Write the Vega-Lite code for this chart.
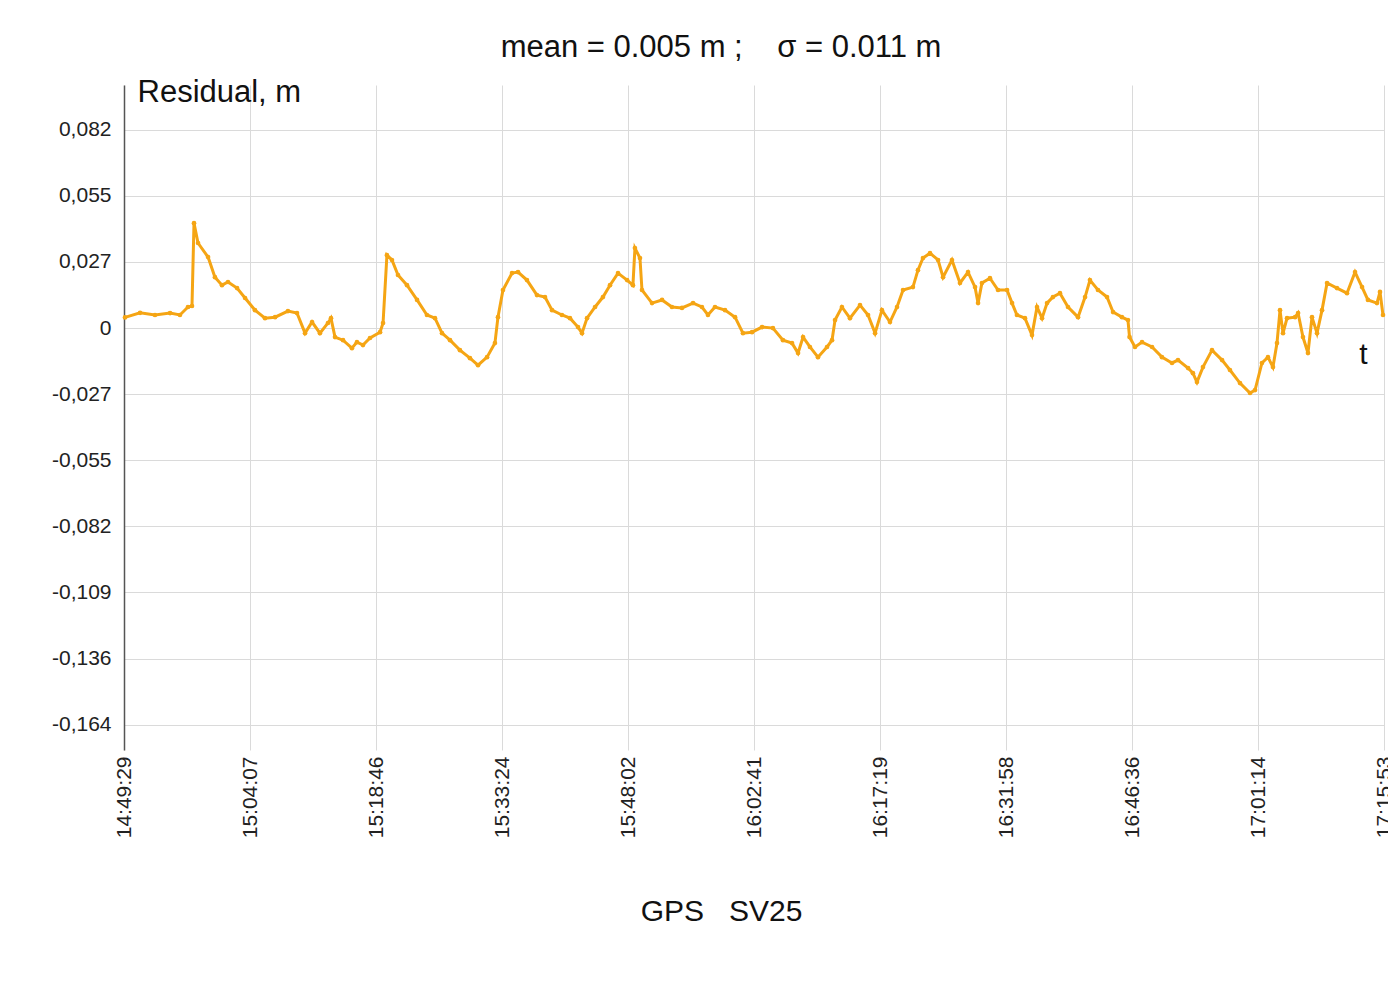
{
  "$schema": "https://vega.github.io/schema/vega-lite/v6.json",
  "width": 1260,
  "height": 665,
  "autosize": {"type": "none"},
  "padding": {"left": 124, "top": 85, "right": 4, "bottom": 247},
  "background": "white",
  "title": {
    "text": "mean = 0.005 m ;\u00a0\u00a0\u00a0\u00a0σ = 0.011 m",
    "font": "Liberation Sans",
    "fontSize": 31,
    "fontWeight": "normal",
    "color": "#111111",
    "anchor": "middle",
    "dx": -33,
    "offset": 12
  },
  "config": {
    "view": {"stroke": null},
    "axis": {"labelFont": "Liberation Sans", "titleFont": "Liberation Sans"}
  },
  "datasets": {
    "series": [
      {"t": 7, "residual": 0.0044}, {"t": 112, "residual": 0.0063}, {"t": 216, "residual": 0.0054},
      {"t": 321, "residual": 0.0062}, {"t": 390, "residual": 0.0054}, {"t": 446, "residual": 0.0087},
      {"t": 474, "residual": 0.0091}, {"t": 488, "residual": 0.0433}, {"t": 516, "residual": 0.0351},
      {"t": 586, "residual": 0.0293}, {"t": 634, "residual": 0.021}, {"t": 683, "residual": 0.0177},
      {"t": 725, "residual": 0.019}, {"t": 788, "residual": 0.0165}, {"t": 844, "residual": 0.0124},
      {"t": 913, "residual": 0.0074}, {"t": 983, "residual": 0.0041}, {"t": 1053, "residual": 0.0045},
      {"t": 1143, "residual": 0.007}, {"t": 1206, "residual": 0.0062}, {"t": 1262, "residual": -0.0021},
      {"t": 1311, "residual": 0.0025}, {"t": 1366, "residual": -0.0021}, {"t": 1422, "residual": 0.0021},
      {"t": 1443, "residual": 0.0041}, {"t": 1471, "residual": -0.0037}, {"t": 1527, "residual": -0.005},
      {"t": 1589, "residual": -0.0083}, {"t": 1624, "residual": -0.0058}, {"t": 1666, "residual": -0.007},
      {"t": 1715, "residual": -0.0041}, {"t": 1785, "residual": -0.0017}, {"t": 1806, "residual": 0.0021},
      {"t": 1833, "residual": 0.0301}, {"t": 1868, "residual": 0.0281}, {"t": 1910, "residual": 0.0219},
      {"t": 1973, "residual": 0.0177}, {"t": 2043, "residual": 0.0116}, {"t": 2112, "residual": 0.0054},
      {"t": 2168, "residual": 0.0041}, {"t": 2217, "residual": -0.0021}, {"t": 2273, "residual": -0.005},
      {"t": 2342, "residual": -0.0091}, {"t": 2412, "residual": -0.0124}, {"t": 2468, "residual": -0.0153},
      {"t": 2531, "residual": -0.012}, {"t": 2586, "residual": -0.0062}, {"t": 2607, "residual": 0.0045},
      {"t": 2642, "residual": 0.0157}, {"t": 2705, "residual": 0.0227}, {"t": 2747, "residual": 0.0231},
      {"t": 2809, "residual": 0.0198}, {"t": 2879, "residual": 0.0136}, {"t": 2935, "residual": 0.0128},
      {"t": 2984, "residual": 0.0074}, {"t": 3053, "residual": 0.0054}, {"t": 3109, "residual": 0.0041},
      {"t": 3165, "residual": 0.0004}, {"t": 3193, "residual": -0.0021}, {"t": 3228, "residual": 0.0041},
      {"t": 3284, "residual": 0.0087}, {"t": 3339, "residual": 0.0128}, {"t": 3388, "residual": 0.0177},
      {"t": 3444, "residual": 0.0227}, {"t": 3507, "residual": 0.0198}, {"t": 3548, "residual": 0.0177},
      {"t": 3562, "residual": 0.033}, {"t": 3597, "residual": 0.0289}, {"t": 3611, "residual": 0.0157},
      {"t": 3681, "residual": 0.0103}, {"t": 3751, "residual": 0.0116}, {"t": 3820, "residual": 0.0087},
      {"t": 3890, "residual": 0.0083}, {"t": 3967, "residual": 0.0103}, {"t": 4029, "residual": 0.0087},
      {"t": 4071, "residual": 0.0054}, {"t": 4120, "residual": 0.0087}, {"t": 4190, "residual": 0.0074},
      {"t": 4260, "residual": 0.0045}, {"t": 4315, "residual": -0.0021}, {"t": 4378, "residual": -0.0017},
      {"t": 4448, "residual": 0.0004}, {"t": 4524, "residual": 0.0}, {"t": 4594, "residual": -0.005},
      {"t": 4657, "residual": -0.0062}, {"t": 4699, "residual": -0.0103}, {"t": 4734, "residual": -0.0037},
      {"t": 4782, "residual": -0.0078}, {"t": 4838, "residual": -0.012}, {"t": 4901, "residual": -0.0078},
      {"t": 4936, "residual": -0.005}, {"t": 4957, "residual": 0.0033}, {"t": 5005, "residual": 0.0087},
      {"t": 5061, "residual": 0.0041}, {"t": 5131, "residual": 0.0095}, {"t": 5187, "residual": 0.0054},
      {"t": 5236, "residual": -0.0021}, {"t": 5284, "residual": 0.0074}, {"t": 5340, "residual": 0.0025},
      {"t": 5389, "residual": 0.0087}, {"t": 5431, "residual": 0.0157}, {"t": 5500, "residual": 0.0169},
      {"t": 5535, "residual": 0.0239}, {"t": 5570, "residual": 0.0289}, {"t": 5619, "residual": 0.0309},
      {"t": 5675, "residual": 0.0281}, {"t": 5710, "residual": 0.021}, {"t": 5772, "residual": 0.0281},
      {"t": 5828, "residual": 0.0186}, {"t": 5884, "residual": 0.0231}, {"t": 5933, "residual": 0.0169},
      {"t": 5954, "residual": 0.0103}, {"t": 5981, "residual": 0.0186}, {"t": 6037, "residual": 0.0206},
      {"t": 6093, "residual": 0.0157}, {"t": 6156, "residual": 0.0157}, {"t": 6191, "residual": 0.0103},
      {"t": 6225, "residual": 0.0054}, {"t": 6281, "residual": 0.0041}, {"t": 6330, "residual": -0.0029},
      {"t": 6365, "residual": 0.0087}, {"t": 6400, "residual": 0.0041}, {"t": 6435, "residual": 0.0103},
      {"t": 6476, "residual": 0.0128}, {"t": 6525, "residual": 0.0144}, {"t": 6581, "residual": 0.0087},
      {"t": 6651, "residual": 0.0045}, {"t": 6700, "residual": 0.0128}, {"t": 6734, "residual": 0.0198},
      {"t": 6790, "residual": 0.0157}, {"t": 6853, "residual": 0.0128}, {"t": 6895, "residual": 0.0066},
      {"t": 6957, "residual": 0.0045}, {"t": 6999, "residual": 0.0033}, {"t": 7010, "residual": -0.0037},
      {"t": 7048, "residual": -0.0078}, {"t": 7097, "residual": -0.0058}, {"t": 7167, "residual": -0.0078},
      {"t": 7236, "residual": -0.012}, {"t": 7306, "residual": -0.0144}, {"t": 7348, "residual": -0.0132},
      {"t": 7418, "residual": -0.0165}, {"t": 7452, "residual": -0.0186}, {"t": 7480, "residual": -0.0223},
      {"t": 7522, "residual": -0.0161}, {"t": 7585, "residual": -0.0091}, {"t": 7655, "residual": -0.0132},
      {"t": 7710, "residual": -0.0173}, {"t": 7780, "residual": -0.0227}, {"t": 7850, "residual": -0.0268},
      {"t": 7885, "residual": -0.0256}, {"t": 7933, "residual": -0.0144}, {"t": 7975, "residual": -0.012},
      {"t": 8010, "residual": -0.0161}, {"t": 8038, "residual": -0.0062}, {"t": 8059, "residual": 0.0074},
      {"t": 8080, "residual": -0.0021}, {"t": 8108, "residual": 0.0041}, {"t": 8164, "residual": 0.0045},
      {"t": 8185, "residual": 0.0062}, {"t": 8219, "residual": -0.0037}, {"t": 8254, "residual": -0.0103},
      {"t": 8282, "residual": 0.0045}, {"t": 8317, "residual": -0.0021}, {"t": 8352, "residual": 0.0074},
      {"t": 8387, "residual": 0.0186}, {"t": 8456, "residual": 0.0165}, {"t": 8526, "residual": 0.0144},
      {"t": 8582, "residual": 0.0231}, {"t": 8631, "residual": 0.0169}, {"t": 8672, "residual": 0.0116},
      {"t": 8735, "residual": 0.0103}, {"t": 8756, "residual": 0.0149}, {"t": 8777, "residual": 0.0054}
    ],
    "label": [{"t": 8640, "residual": -0.0112, "text": "t"}]
  },
  "encoding": {
    "x": {
      "field": "t",
      "type": "quantitative",
      "scale": {"domain": [0, 8784], "nice": false, "zero": false},
      "axis": {
        "title": "GPS\u00a0\u00a0\u00a0SV25",
        "titleFontSize": 30,
        "titleFontWeight": "normal",
        "titleColor": "#111111",
        "titleX": 597,
        "titleY": 161,
        "titleBaseline": "middle",
        "values": [0, 878.4, 1756.8, 2635.2, 3513.6, 4392, 5270.4, 6148.8, 7027.2, 7905.6, 8784],
        "labelExpr": "timeFormat(datetime(2020, 0, 1, 14, 49, 29, 300 + datum.value * 1000), '%H:%M:%S')",
        "labelAngle": 270,
        "labelAlign": "right",
        "labelBaseline": "middle",
        "labelFontSize": 21,
        "labelColor": "#222222",
        "labelPadding": 6,
        "labelFlush": false,
        "labelOverlap": false,
        "ticks": false,
        "domain": false,
        "grid": true,
        "gridColor": "#dadada",
        "gridWidth": 1
      }
    },
    "y": {
      "field": "residual",
      "type": "quantitative",
      "scale": {"domain": [-0.1741, 0.1003], "nice": false, "zero": false},
      "axis": {
        "title": "Residual, m",
        "titleAngle": 0,
        "titleAlign": "left",
        "titleBaseline": "middle",
        "titleX": 13,
        "titleY": 7,
        "titleFontSize": 31,
        "titleFontWeight": "normal",
        "titleColor": "#111111",
        "values": [-0.163636, -0.136364, -0.109091, -0.081818, -0.054545, -0.027273, 0, 0.027273, 0.054545, 0.081818],
        "labelExpr": "datum.value == 0 ? '0' : replace(replace(format(datum.value, '.3f'), '.', ','), '\u2212', '-')",
        "labelFontSize": 21,
        "labelColor": "#222222",
        "labelPadding": 13,
        "ticks": false,
        "domain": true,
        "domainColor": "#555555",
        "domainWidth": 1.5,
        "grid": true,
        "gridColor": "#dadada",
        "gridWidth": 1
      }
    }
  },
  "layer": [
    {
      "mark": {"type": "rule", "color": "black", "strokeWidth": 1.5},
      "encoding": {"y": {"datum": 0}, "x": {"value": 0}, "x2": {"value": 1260}}
    },
    {
      "data": {"name": "series"},
      "mark": {
        "type": "line",
        "color": "#f5a514",
        "strokeWidth": 3,
        "point": {"filled": true, "size": 22, "color": "#f5a514"}
      }
    },
    {
      "data": {"name": "label"},
      "mark": {"type": "text", "font": "Liberation Sans", "fontSize": 30, "color": "#111111", "align": "center", "baseline": "middle"},
      "encoding": {"text": {"field": "text"}}
    }
  ]
}
